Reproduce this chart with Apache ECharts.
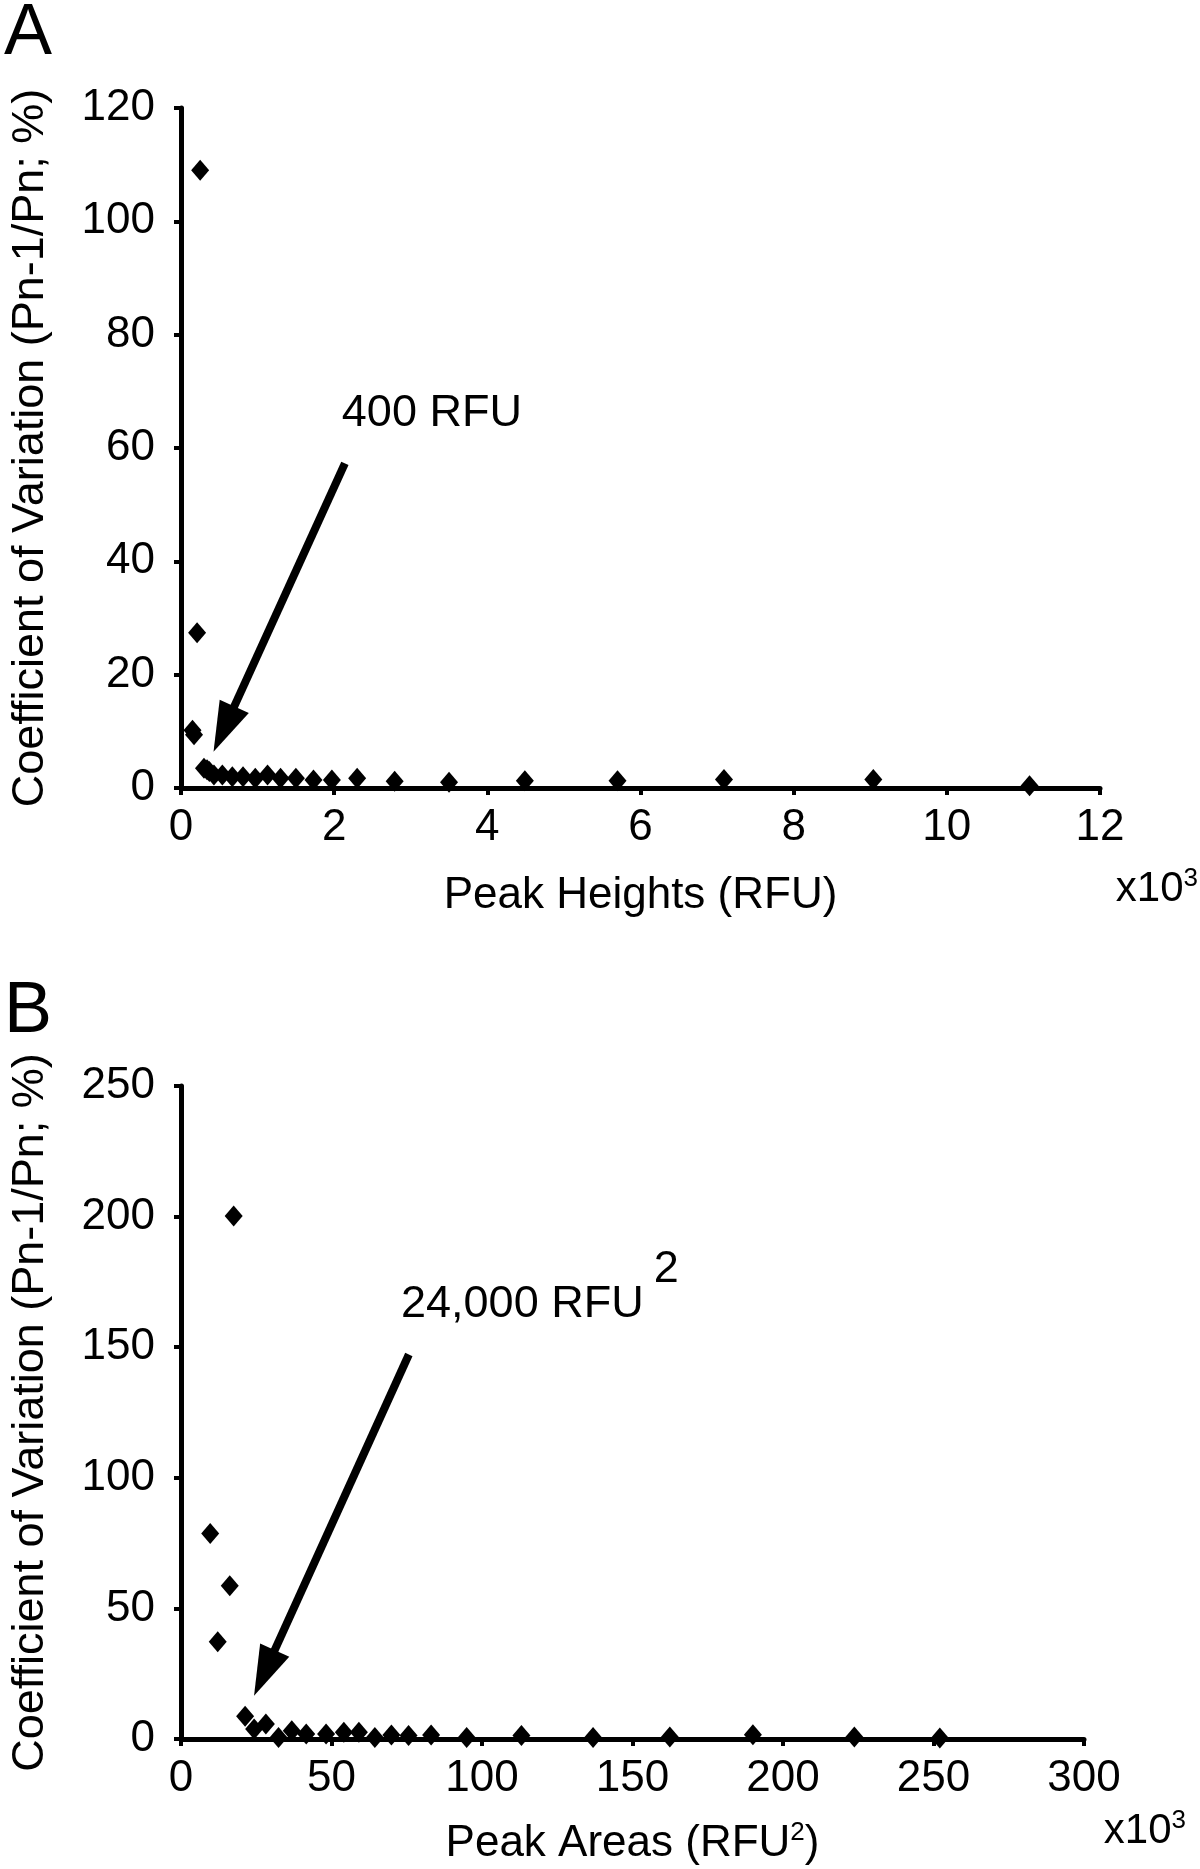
<!DOCTYPE html>
<html><head><meta charset="utf-8">
<script src="https://cdn.jsdelivr.net/npm/echarts@6/dist/echarts.min.js"></script>
<style>html,body{margin:0;padding:0;background:#fff}#c{width:1200px;height:1869px}</style>
</head><body><div id="c"></div>
<script>
// Panel A: peak heights (x10^3 RFU) vs coefficient of variation (%)
const heightsK = [0.25, 0.21, 0.15, 0.17, 0.30, 0.34, 0.37, 0.43, 0.54, 0.67, 0.81, 0.97, 1.13, 1.30, 1.50, 1.73, 1.97, 2.30, 2.79, 3.50, 4.49, 5.70, 7.09, 9.04, 11.08];
const heightsCV = [109, 27.4, 10.2, 9.4, 3.5, 3.2, 2.9, 2.3, 2.3, 2.0, 2.0, 1.7, 2.3, 1.7, 1.7, 1.4, 1.4, 1.7, 1.2, 1.0, 1.3, 1.3, 1.5, 1.5, 0.4];
// Panel B: peak areas (x10^3 RFU^2) vs coefficient of variation (%)
const areasK = [9.7, 12.2, 16.2, 17.5, 21.3, 24.3, 28.2, 32.4, 36.8, 41.6, 48.2, 54.1, 59.1, 64.4, 69.9, 75.6, 83.1, 94.9, 113.1, 136.9, 162.4, 190.0, 223.7, 252.1];
const areasCV = [78.7, 37.2, 58.7, 200.2, 8.7, 3.8, 5.7, 0.6, 3.2, 1.9, 1.9, 2.6, 2.6, 0.6, 1.5, 1.3, 1.5, 0.6, 1.3, 0.6, 0.8, 1.6, 0.8, 0.4];
// axis scales
const axisA = {xMin: 0, xMax: 12, xStep: 2, yMin: 0, yMax: 120, yStep: 20};
const axisB = {xMin: 0, xMax: 300, xStep: 50, yMin: 0, yMax: 250, yStep: 50};
// annotations (data coordinates)
const labelA = {text: '400 RFU', at: [2.10, 66.0]};
const arrowA = {from: [2.14, 57.3], to: [0.56, 10.4]};
const labelB = {text: '24,000 RFU', sup: '2', at: [73.1, 166.3]};
const arrowB = {from: [75.7, 147.2], to: [27.7, 25.3]};

const FONT = "'Liberation Sans', Arial, Helvetica, sans-serif";
const chart = echarts.init(document.getElementById('c'), null, {renderer: 'canvas'});

function zip(xs, ys) { return xs.map((x, i) => [x, ys[i]]); }

function xAxisOf(idx, ax, name, gap) {
  return {
    type: 'value', gridIndex: idx, min: ax.xMin, max: ax.xMax, interval: ax.xStep,
    name: name, nameLocation: 'middle', nameGap: gap,
    nameTextStyle: {fontFamily: FONT, fontSize: 44, color: '#000',
      rich: {a: {fontFamily: FONT, fontSize: 44, color: '#000'},
             s: {fontFamily: FONT, fontSize: 26, color: '#000', padding: [0, 0, 22, 0]}}},
    axisLine: {show: true, onZero: false, lineStyle: {color: '#000', width: 5}},
    axisTick: {show: true, length: 7, lineStyle: {color: '#000', width: 4}},
    axisLabel: {fontFamily: FONT, fontSize: 44, color: '#000', margin: 18},
    splitLine: {show: false}
  };
}
function yAxisOf(idx, ax) {
  return {
    type: 'value', gridIndex: idx, min: ax.yMin, max: ax.yMax, interval: ax.yStep,
    name: 'Coefficient of Variation (Pn-1/Pn; %)', nameLocation: 'middle', nameRotate: 90, nameGap: 128,
    nameTextStyle: {fontFamily: FONT, fontSize: 45, color: '#000'},
    axisLine: {show: true, onZero: false, lineStyle: {color: '#000', width: 5}},
    axisTick: {show: true, length: 7, lineStyle: {color: '#000', width: 4}},
    axisLabel: {fontFamily: FONT, fontSize: 44, color: '#000', margin: 26},
    splitLine: {show: false}
  };
}
function seriesOf(idx, xs, ys, label, arrow) {
  return {
    type: 'scatter', xAxisIndex: idx, yAxisIndex: idx, data: zip(xs, ys),
    symbol: 'diamond', symbolSize: [18, 21], clip: false,
    itemStyle: {color: '#000', opacity: 1}, silent: true,
    markLine: {
      silent: true, symbol: ['none', 'triangle'], symbolSize: [32, 50],
      lineStyle: {color: '#000', width: 8, type: 'solid', opacity: 1}, label: {show: false},
      itemStyle: {color: '#000'},
      emphasis: {disabled: true},
      data: [[{coord: arrow.from}, {coord: arrow.to}]]
    },
    markPoint: {
      silent: true, symbol: 'circle', symbolSize: 0,
      data: [{coord: label.at,
        label: {show: true, position: 'right', distance: 0,
          formatter: label.sup ? '{a|' + label.text + '}{b|' + label.sup + '}' : '{a|' + label.text + '}',
          rich: {a: {fontFamily: FONT, fontSize: 45, color: '#000'},
                 b: {fontFamily: FONT, fontSize: 45, color: '#000', padding: [0, 0, 70, 10]}}}}]
    }
  };
}

chart.setOption({
  backgroundColor: '#fff',
  animation: false,
  grid: [
    {left: 178, top: 108, width: 922, height: 680},
    {left: 178, top: 1086, width: 906, height: 653}
  ],
  xAxis: [
    xAxisOf(0, axisA, '{a|Peak Heights (RFU)}', 86),
    xAxisOf(1, axisB, '{a|Peak Areas (RFU}{s|2}{a|)}', 81)
  ],
  yAxis: [yAxisOf(0, axisA), yAxisOf(1, axisB)],
  series: [
    seriesOf(0, heightsK, heightsCV, labelA, arrowA),
    seriesOf(1, areasK, areasCV, labelB, arrowB)
  ],
  graphic: [
    {type: 'text', left: 4, top: -2, style: {text: 'A', font: '72px ' + FONT, fill: '#000'}},
    {type: 'text', left: 4, top: 976, style: {text: 'B', font: '72px ' + FONT, fill: '#000'}},
    {type: 'text', right: 2, top: 866, style: {text: '{a|x10}{s|3}', fill: '#000',
      rich: {a: {fontFamily: FONT, fontSize: 42, color: '#000'}, s: {fontFamily: FONT, fontSize: 26, color: '#000', padding: [0, 0, 20, 0]}}}},
    {type: 'text', right: 14, top: 1808, style: {text: '{a|x10}{s|3}', fill: '#000',
      rich: {a: {fontFamily: FONT, fontSize: 42, color: '#000'}, s: {fontFamily: FONT, fontSize: 26, color: '#000', padding: [0, 0, 20, 0]}}}}
  ]
});
</script>
</body></html>
